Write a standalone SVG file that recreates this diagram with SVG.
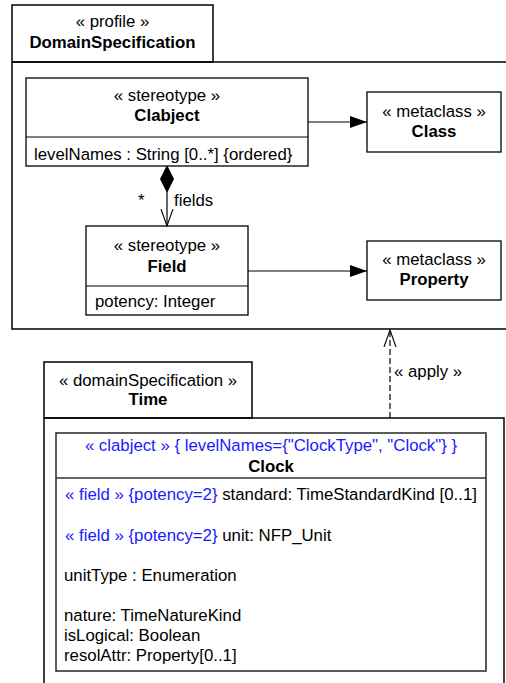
<svg xmlns="http://www.w3.org/2000/svg" width="506" height="683" viewBox="0 0 506 683">
<style>
text{font-family:"Liberation Sans",Arial,sans-serif;font-size:16.8px;fill:#000}
.c{text-anchor:middle}
.b{font-weight:bold}
.blue{fill:#1a1aff}
.box{fill:#fff;stroke:#000;stroke-width:1.3}
.pk{fill:none;stroke:#000;stroke-width:1.5}
.ln{fill:none;stroke:#000;stroke-width:1.2}
</style>
<defs>
<marker id="tri" viewBox="0 0 17 12" refX="17" refY="6" markerWidth="17" markerHeight="12" markerUnits="userSpaceOnUse" orient="auto">
<path d="M0,0 L17,6 L0,12 Z" fill="#000"/>
</marker>
<marker id="open" viewBox="0 0 18 14" refX="17" refY="7" markerWidth="18" markerHeight="14" markerUnits="userSpaceOnUse" orient="auto">
<path d="M0,1 L17,7 L0,13" fill="none" stroke="#000" stroke-width="1.1"/>
</marker>
</defs>

<g id="profile">
<rect x="12" y="5" width="201" height="57" class="pk" fill="#fff"/>
<path d="M12,62 H506 M12,62 V329 H506" class="pk"/>
<text x="112.5" y="27" class="c">« profile »</text>
<text x="112.5" y="48" class="c b">DomainSpecification</text>
</g>

<g id="clabject">
<rect x="26" y="78" width="282" height="88" class="box"/>
<line x1="26" y1="137" x2="308" y2="137" class="ln"/>
<text x="167" y="101" class="c">« stereotype »</text>
<text x="167" y="121" class="c b">Clabject</text>
<text x="34" y="160">levelNames : String [0..*] {ordered}</text>
</g>

<g id="class">
<rect x="367" y="92" width="134" height="60" class="box"/>
<text x="434" y="117" class="c">« metaclass »</text>
<text x="434" y="137" class="c b">Class</text>
</g>

<g id="field">
<rect x="86" y="226" width="162" height="89" class="box"/>
<line x1="86" y1="286" x2="248" y2="286" class="ln"/>
<text x="167" y="251" class="c">« stereotype »</text>
<text x="167" y="272" class="c b">Field</text>
<text x="95" y="307">potency: Integer</text>
</g>

<g id="property">
<rect x="367" y="241" width="134" height="59" class="box"/>
<text x="434" y="265" class="c">« metaclass »</text>
<text x="434" y="285" class="c b">Property</text>
</g>

<g id="time">
<rect x="44" y="362" width="208" height="56" class="pk" fill="#fff"/>
<path d="M44,418 H504 V683 M44,418 V683" class="pk"/>
<text x="148" y="386" class="c">« domainSpecification »</text>
<text x="148" y="405" class="c b">Time</text>
</g>

<g id="clock">
<rect x="56" y="433" width="430" height="238" fill="#fff" stroke="#333" stroke-width="1.6"/>
<line x1="56" y1="478" x2="486" y2="478" stroke="#333" stroke-width="1.3"/>
<text x="271" y="451" class="c blue">« clabject » { levelNames={"ClockType", "Clock"} }</text>
<text x="271" y="472" class="c b">Clock</text>
<text x="65" y="500"><tspan class="blue">« field » {potency=2}</tspan> standard: TimeStandardKind [0..1]</text>
<text x="65" y="541"><tspan class="blue">« field » {potency=2}</tspan> unit: NFP_Unit</text>
<text x="64" y="581">unitType : Enumeration</text>
<text x="64" y="621">nature: TimeNatureKind</text>
<text x="64" y="641">isLogical: Boolean</text>
<text x="64" y="661">resolAttr: Property[0..1]</text>
</g>

<g id="connectors">
<line x1="308" y1="122" x2="367" y2="122" class="ln" marker-end="url(#tri)"/>
<line x1="248" y1="271" x2="367" y2="271" class="ln" marker-end="url(#tri)"/>
<path d="M167,166 L173.5,179 L167,192 L160.5,179 Z" fill="#000" stroke="#000" stroke-width="1"/>
<line x1="167" y1="192" x2="167" y2="226" class="ln" marker-end="url(#open)"/>
<text x="138" y="206">*</text>
<text x="174" y="206">fields</text>
<line x1="390" y1="418" x2="390" y2="330" class="ln" stroke-dasharray="6,3" marker-end="url(#open)"/>
<text x="394" y="377">« apply »</text>
</g>
</svg>
